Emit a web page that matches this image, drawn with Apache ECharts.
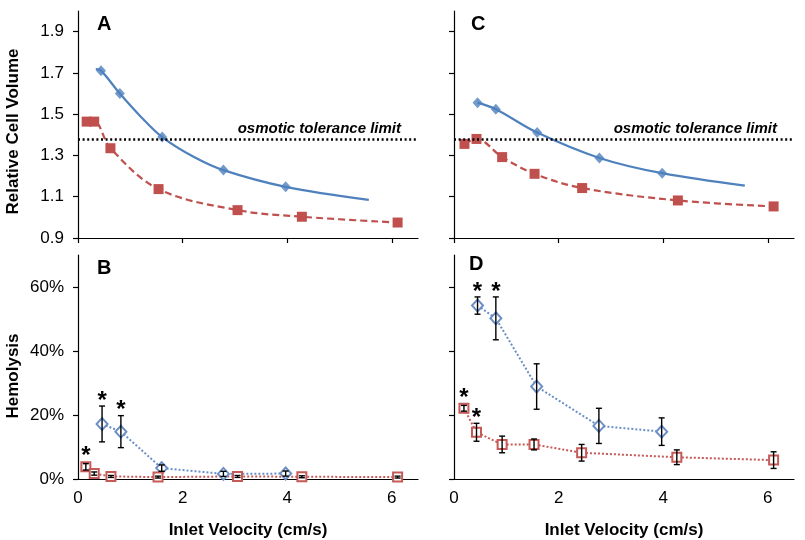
<!DOCTYPE html>
<html><head><meta charset="utf-8">
<script src="https://cdn.jsdelivr.net/npm/echarts@6/dist/echarts.min.js"></script>
<style>html,body{margin:0;padding:0;background:#fff}#c{width:805px;height:540px}</style>
</head><body><div id="c"></div>
<script>
// ---------- data ----------
const xTicks = [0, 2, 4, 6];
const volTicks = [0.9, 1.1, 1.3, 1.5, 1.7, 1.9];
const hemTicks = [0, 20, 40, 60];
const toleranceLimit = 1.38;
const toleranceText = 'osmotic tolerance limit';

// Panel A
const aBlueX = [0.44, 0.80, 1.61, 2.78, 3.97];
const aBlueY = [1.711, 1.600, 1.389, 1.229, 1.148];
const aBlueFitX = [0.34, 0.44, 0.80, 1.20, 1.61, 2.20, 2.78, 3.97, 5.56];
const aBlueFitY = [1.718, 1.711, 1.600, 1.488, 1.389, 1.295, 1.229, 1.148, 1.085];
const aRedX = [0.166, 0.31, 0.62, 1.54, 3.05, 4.28, 6.11];
const aRedY = [1.464, 1.464, 1.335, 1.137, 1.035, 1.003, 0.975];

// Panel C
const cBlueX = [0.45, 0.80, 1.59, 2.78, 3.98];
const cBlueY = [1.556, 1.524, 1.411, 1.288, 1.214];
const cBlueFitX = [0.45, 0.80, 1.59, 2.78, 3.98, 5.56];
const cBlueFitY = [1.556, 1.524, 1.411, 1.288, 1.214, 1.154];
const cRedX = [0.20, 0.43, 0.92, 1.54, 2.45, 4.28, 6.11];
const cRedY = [1.356, 1.380, 1.292, 1.211, 1.142, 1.082, 1.053];

// Panel B (hemolysis %)
const bBlueX = [0.46, 0.82, 1.60, 2.78, 3.97];
const bBlueY = [17.2, 14.8, 3.4, 1.6, 1.7];
const bBlueErr = [5.6, 5.0, 1.0, 0.8, 0.8];
const bBlueSig = [1, 1, 0, 0, 0];
const bRedX = [0.15, 0.31, 0.63, 1.53, 3.05, 4.28, 6.11];
const bRedY = [3.8, 1.7, 0.8, 0.6, 0.8, 0.7, 0.6];
const bRedErr = [1.0, 0.5, 0.3, 0.3, 0.3, 0.3, 0.3];
const bRedSig = [1, 0, 0, 0, 0, 0, 0];

// Panel D (hemolysis %)
const dBlueX = [0.45, 0.80, 1.58, 2.77, 3.97];
const dBlueY = [54.2, 50.2, 28.9, 16.6, 14.8];
const dBlueErr = [2.7, 6.7, 7.1, 5.5, 4.3];
const dBlueSig = [1, 1, 0, 0, 0];
const dRedX = [0.19, 0.43, 0.92, 1.53, 2.44, 4.26, 6.11];
const dRedY = [22.1, 14.6, 10.8, 10.8, 8.2, 6.8, 5.9];
const dRedErr = [0.9, 2.8, 2.6, 1.7, 2.6, 2.3, 2.6];
const dRedSig = [1, 1, 0, 0, 0, 0, 0];

// ---------- styling ----------
const FONT = 'Liberation Sans, Arial, sans-serif';
const BLUE = '#4F81BD';
const RED = '#C0504D';
const BLUE_L = '#6B8FC5';
const RED_L = '#C55A57';

const zip = (xs, ys) => xs.map((x, i) => [x, ys[i]]);
const zip3 = (xs, ys, es) => xs.map((x, i) => [x, ys[i], es[i]]);
const sigOnly = (xs, ys, es, s) => zip3(xs, ys, es).filter((d, i) => s[i]);

const chart = echarts.init(document.getElementById('c'), null, {renderer: 'canvas'});

const grids = [
  {left: 78, top: 11, width: 340, height: 227},
  {left: 454, top: 11, width: 340, height: 227},
  {left: 78, top: 255, width: 340, height: 225},
  {left: 454, top: 255, width: 340, height: 225}
];

const axisLine = {show: true, onZero: false, lineStyle: {color: '#000', width: 1.2}};
function xAxis(i, labels) {
  return {
    type: 'value', gridIndex: i, min: 0, max: 6.5,
    axisLine: axisLine,
    axisTick: {show: !labels, length: 5, inside: false, customValues: xTicks, lineStyle: {color: '#000', width: 1.2}},
    axisLabel: {show: labels, customValues: xTicks, fontSize: 17, color: '#000', fontFamily: FONT, margin: 11},
    splitLine: {show: false},
    name: labels ? 'Inlet Velocity (cm/s)' : '',
    nameLocation: 'middle', nameGap: 43,
    nameTextStyle: {fontSize: 17, fontWeight: 'bold', color: '#000', fontFamily: FONT}
  };
}
function yAxisVol(i, labels) {
  return {
    type: 'value', gridIndex: i, min: 0.9, max: 2.0,
    axisLine: axisLine,
    axisTick: {show: true, length: 5, customValues: volTicks, lineStyle: {color: '#000', width: 1.2}},
    axisLabel: {show: labels, customValues: volTicks, fontSize: 17, color: '#000', fontFamily: FONT, margin: 14,
      formatter: v => v.toFixed(1)},
    splitLine: {show: false},
    name: labels ? 'Relative Cell Volume' : '',
    nameLocation: 'middle', nameGap: 56,
    nameTextStyle: {fontSize: 17, fontWeight: 'bold', color: '#000', fontFamily: FONT, padding: [0, 14, 0, 0]}
  };
}
function yAxisHem(i, labels) {
  return {
    type: 'value', gridIndex: i, min: 0, max: 70,
    axisLine: axisLine,
    axisTick: {show: true, length: 5, customValues: hemTicks, lineStyle: {color: '#000', width: 1.2}},
    axisLabel: {show: labels, customValues: hemTicks, fontSize: 17, color: '#000', fontFamily: FONT, margin: 14,
      formatter: v => v + '%'},
    splitLine: {show: false},
    name: labels ? 'Hemolysis' : '',
    nameLocation: 'middle', nameGap: 56,
    nameTextStyle: {fontSize: 17, fontWeight: 'bold', color: '#000', fontFamily: FONT, padding: [0, 18, 0, 0]}
  };
}

function errRender(params, api) {
  const x = api.value(0), y = api.value(1), e = api.value(2);
  const t = api.coord([x, y + e]), b = api.coord([x, y - e]);
  const w = 3;
  const st = {stroke: '#000', lineWidth: 1.4};
  return {type: 'group', children: [
    {type: 'line', shape: {x1: t[0], y1: t[1], x2: b[0], y2: b[1]}, style: st},
    {type: 'line', shape: {x1: t[0] - w, y1: t[1], x2: t[0] + w, y2: t[1]}, style: st},
    {type: 'line', shape: {x1: b[0] - w, y1: b[1], x2: b[0] + w, y2: b[1]}, style: st}
  ]};
}
function starRender(params, api) {
  const x = api.value(0), y = api.value(1), e = api.value(2);
  const t = api.coord([x, y + e]), p = api.coord([x, y]);
  const top = Math.min(t[1], p[1] - 5);
  return {type: 'text', x: p[0], y: top + 7,
    style: {text: '*', fontSize: 24, fontWeight: 'bold', fontFamily: FONT, fill: '#000', align: 'center', verticalAlign: 'bottom'}};
}

function volPanel(i, blueFit, blue, red) {
  return [
    {type: 'line', xAxisIndex: i, yAxisIndex: i, data: blueFit, smooth: 0.35, showSymbol: false, silent: true,
      lineStyle: {color: BLUE, width: 2.2}, z: 2,
      markLine: {silent: true, symbol: 'none', animation: false,
        lineStyle: {color: '#000', type: [2, 2.6], width: 2.6},
        label: {show: true, position: 'insideEndTop', formatter: toleranceText, fontSize: 15, fontStyle: 'italic',
          fontWeight: 'bold', color: '#000', fontFamily: FONT, padding: [0, 14, 0, 0], distance: 3},
        data: [{yAxis: toleranceLimit}]}},
    {type: 'scatter', xAxisIndex: i, yAxisIndex: i, data: blue, symbol: 'diamond', symbolSize: [10, 11],
      itemStyle: {color: BLUE}, z: 3},
    {type: 'line', xAxisIndex: i, yAxisIndex: i, data: red, smooth: 0.35, symbol: 'rect', symbolSize: 10,
      showSymbol: true, itemStyle: {color: RED}, lineStyle: {color: RED, width: 2.2, type: [7, 4]}, z: 3}
  ];
}
function hemPanel(i, bx, by, be, bs, rx, ry, re, rs) {
  return [
    {type: 'line', xAxisIndex: i, yAxisIndex: i, data: zip(bx, by), symbol: 'diamond', symbolSize: [11, 12],
      showSymbol: true, itemStyle: {color: '#fff', borderColor: BLUE_L, borderWidth: 2},
      lineStyle: {color: BLUE_L, width: 2, type: [2, 2]}, z: 3},
    {type: 'line', xAxisIndex: i, yAxisIndex: i, data: zip(rx, ry), symbol: 'rect', symbolSize: 9,
      showSymbol: true, itemStyle: {color: '#fff', borderColor: RED_L, borderWidth: 2},
      lineStyle: {color: RED_L, width: 2, type: [2, 2]}, z: 3},
    {type: 'custom', xAxisIndex: i, yAxisIndex: i, data: zip3(bx, by, be), renderItem: errRender, z: 5, silent: true},
    {type: 'custom', xAxisIndex: i, yAxisIndex: i, data: zip3(rx, ry, re), renderItem: errRender, z: 5, silent: true},
    {type: 'custom', xAxisIndex: i, yAxisIndex: i, data: sigOnly(bx, by, be, bs).concat(sigOnly(rx, ry, re, rs)),
      renderItem: starRender, z: 6, silent: true}
  ];
}

const panelTitle = (t, l, top) => ({text: t, left: l, top: top, padding: 0,
  textStyle: {fontSize: 20, fontWeight: 'bold', color: '#000', fontFamily: FONT}});

chart.setOption({
  animation: false,
  backgroundColor: '#fff',
  title: [panelTitle('A', 97, 14), panelTitle('C', 471, 14), panelTitle('B', 97, 258), panelTitle('D', 469, 254)],
  grid: grids,
  xAxis: [xAxis(0, false), xAxis(1, false), xAxis(2, true), xAxis(3, true)],
  yAxis: [yAxisVol(0, true), yAxisVol(1, false), yAxisHem(2, true), yAxisHem(3, false)],
  series: [].concat(
    volPanel(0, zip(aBlueFitX, aBlueFitY), zip(aBlueX, aBlueY), zip(aRedX, aRedY)),
    volPanel(1, zip(cBlueFitX, cBlueFitY), zip(cBlueX, cBlueY), zip(cRedX, cRedY)),
    hemPanel(2, bBlueX, bBlueY, bBlueErr, bBlueSig, bRedX, bRedY, bRedErr, bRedSig),
    hemPanel(3, dBlueX, dBlueY, dBlueErr, dBlueSig, dRedX, dRedY, dRedErr, dRedSig)
  )
});
</script></body></html>
